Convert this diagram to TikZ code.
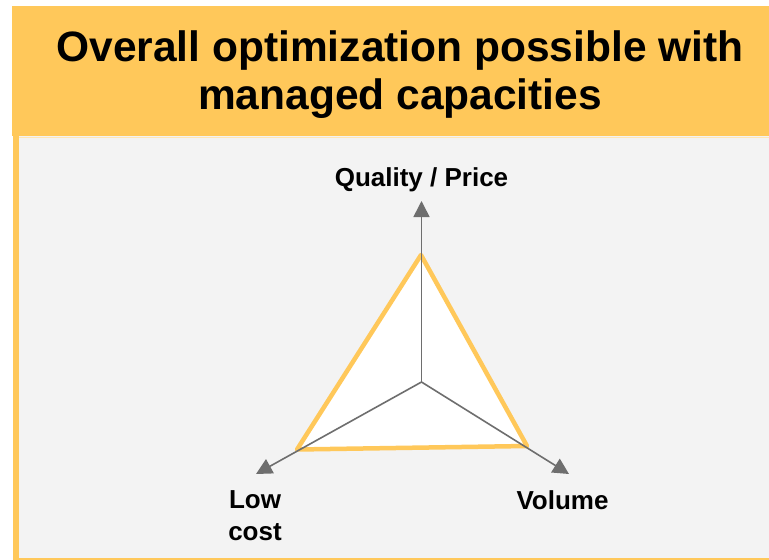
\documentclass[tikz,border=0pt]{standalone}
\usepackage{fontspec}
\setmainfont{Liberation Sans}
\usetikzlibrary{arrows.meta,positioning}

\begin{document}
\begin{tikzpicture}[x=1pt, y=-1pt, every node/.style={font=\bfseries, inner sep=0pt}]
        \definecolor{capyellow}{RGB}{255,200,90}
        \definecolor{capgray}{RGB}{243,243,243}
        \definecolor{capaxis}{RGB}{110,110,110}
        \tikzset{
            axisline/.style={draw=capaxis, line width=1.6pt, -{Triangle[length=16pt, width=16pt]}},
            axislabel/.style={font=\fontsize{26}{32}\selectfont\bfseries, align=center}
        }
        \useasboundingbox (0,0) rectangle (769,560);

        % Header band
        \fill[capyellow] (12,6) rectangle (769,136);
        \node[font=\fontsize{42.5}{48}\selectfont\bfseries, align=center, anchor=north] (title) at (400,31)
            {Overall optimization possible with\\managed capacities};

        % Grey panel with yellow edges
        \fill[capgray] (13,136) rectangle (769,558);
        \draw[capyellow!45, line width=1pt] (19,137) -- (769,137);
        \fill[capyellow] (13,136) rectangle (19,559);
        \draw[capyellow, line width=2pt] (13,558.5) -- (769,558.5);

        % Axis points
        \coordinate (origin) at (421.5,382);
        \coordinate (qtip) at (421.5,201);
        \coordinate (ltip) at (256,474);
        \coordinate (vtip) at (569,474);

        % Triangle
        \coordinate (qpt) at (421,255);
        \coordinate (lpt) at (297,449.5);
        \coordinate (vpt) at (527,446);
        \filldraw[fill=white, draw=capyellow, line width=4.5pt, line join=round] (qpt) -- (vpt) -- (lpt) -- cycle;

        % Axes
        \draw[axisline] (origin) -- (qtip);
        \draw[axisline] (origin) -- (ltip);
        \draw[axisline] (origin) -- (vtip);

        % Labels
        \node[axislabel, anchor=base] (quality) at (421.5,186.7) {Quality / Price};
        \node[axislabel, anchor=north] (lowcost) at (255,490) {Low\\cost};
        \node[axislabel, anchor=base] (volume) at (562.5,509.3) {Volume};
    \end{tikzpicture}
\end{document}
